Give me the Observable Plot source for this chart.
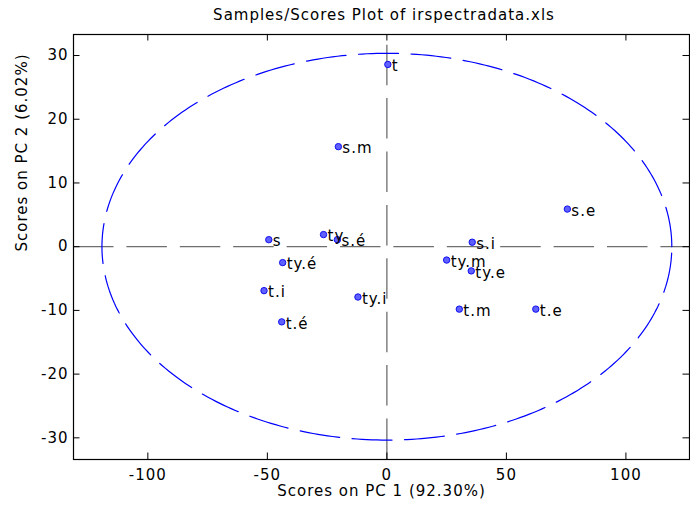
<!DOCTYPE html>
<html>
<head>
<meta charset="utf-8">
<script src="https://cdn.jsdelivr.net/npm/d3@7"></script>
<script src="https://cdn.jsdelivr.net/npm/@observablehq/plot@0.6"></script>
<style>
  html, body { margin: 0; padding: 0; background: #fff; }
  #wrap { position: relative; width: 690px; height: 506px; }
  #title { position: absolute; top: 8px; left: 39px; width: 690px; text-align: center;
           font: 15px "DejaVu Sans", sans-serif; letter-spacing: 1px; line-height: 15px; color: #000; }
</style>
</head>
<body>
<div id="wrap">
  <div id="chart"></div>
  <div id="title">Samples/Scores Plot of irspectradata.xls</div>
</div>
<script>
// Sample labels and PCA scores
const sampleNames = ["t", "s.m", "s.e", "s", "ty", "s.é", "s.i", "ty.é", "ty.m", "ty.e", "t.i", "ty.i", "t.m", "t.e", "t.é"];
const pc1Scores   = [0.4, -20.3, 75.5, -49.4, -26.5, -20.7, 35.7, -43.6, 25.0, 35.3, -51.4, -12.1, 30.3, 62.3, -44.0];
const pc2Scores   = [28.6, 15.7, 5.9, 1.1, 1.9, 1.1, 0.7, -2.5, -2.1, -3.8, -6.9, -7.9, -9.8, -9.8, -11.8];

// Confidence ellipse radii (PC1, PC2)
const ellipseRx = 119.2;
const ellipseRy = 30.35;

// Axes
const xDomain = [-131.1, 126.6];
const yDomain = [-33.4, 33.3];
const xTicks = [-100, -50, 0, 50, 100];
const yTicks = [-30, -20, -10, 0, 10, 20, 30];
const xLabel = "Scores on PC 1 (92.30%)";
const yLabel = "Scores on PC 2 (6.02%)";

const samples = sampleNames.map((name, i) => ({name, pc1: pc1Scores[i], pc2: pc2Scores[i]}));
const ellipse = d3.range(0, 361).map(a => ({
  x: ellipseRx * Math.cos(a * Math.PI / 180),
  y: ellipseRy * Math.sin(a * Math.PI / 180)
}));

const W = 690, H = 506, mL = 73, mR = 1, mT = 34, mB = 47;
const innerW = W - mL - mR, innerH = H - mT - mB;
const tickLen = 6.5;
const dash = "40.5,12.9";

const chart = Plot.plot({
  width: W,
  height: H,
  marginLeft: mL,
  marginRight: mR,
  marginTop: mT,
  marginBottom: mB,
  style: {fontFamily: "'DejaVu Sans', sans-serif", fontSize: "15px", letterSpacing: "1px", color: "#000", background: "#fff"},
  x: {domain: xDomain},
  y: {domain: yDomain},
  marks: [
    // zero lines
    Plot.ruleY([0], {stroke: "#6e6e6e", strokeWidth: 1.3, strokeDasharray: dash}),
    Plot.ruleX([0], {y1: yDomain[0], y2: yDomain[1], stroke: "#6e6e6e", strokeWidth: 1.3, strokeDasharray: dash}),
    // ellipse
    Plot.line(ellipse, {x: "x", y: "y", stroke: "#0000ff", strokeWidth: 1.2, strokeDasharray: "40,12.5"}),
    // axes labels
    Plot.axisX(xTicks, {tickSize: 0, tickPadding: 10, tickFormat: d => String(d), label: null, fill: "#000"}),
    Plot.axisY(yTicks, {tickSize: 0, tickPadding: 5, tickFormat: d => String(d), label: null, fill: "#000"}),
    // inward ticks on four sides
    Plot.tickX(xTicks, {x: d => d, insetTop: innerH - tickLen, stroke: "#000", strokeWidth: 1}),
    Plot.tickX(xTicks, {x: d => d, insetBottom: innerH - tickLen, stroke: "#000", strokeWidth: 1}),
    Plot.tickY(yTicks, {y: d => d, insetRight: innerW - tickLen, stroke: "#000", strokeWidth: 1}),
    Plot.tickY(yTicks, {y: d => d, insetLeft: innerW - tickLen, stroke: "#000", strokeWidth: 1}),
    Plot.frame({stroke: "#000", strokeWidth: 1.2}),
    // points and labels
    Plot.dot(samples, {x: "pc1", y: "pc2", r: 3.2, fill: "#6060ff", stroke: "#1010ee", strokeWidth: 1}),
    Plot.text(samples, {x: "pc1", y: "pc2", text: "name", textAnchor: "start", dx: 4, dy: 2, fill: "#000"}),
    // axis titles
    Plot.text([xLabel], {frameAnchor: "bottom", lineAnchor: "bottom", text: d => d, dy: 36, fill: "#000"}),
    Plot.text([yLabel], {frameAnchor: "left", lineAnchor: "middle", text: d => d, rotate: -90, dx: -51.5, dy: 4.5, fill: "#000"})
  ]
});
document.getElementById("chart").appendChild(chart);
</script>
</body>
</html>
